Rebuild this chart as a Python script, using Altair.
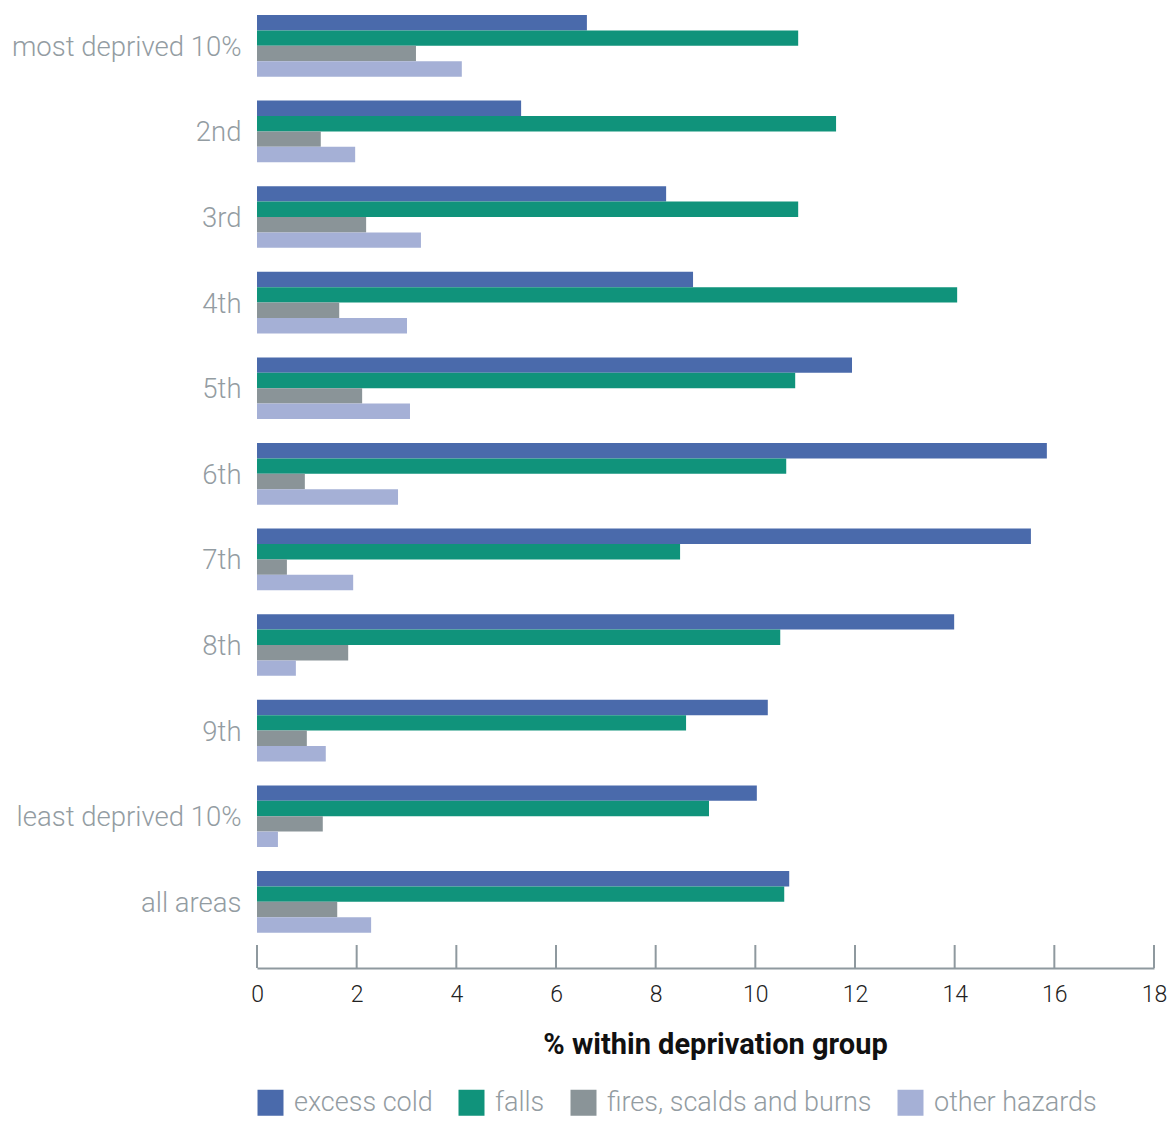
import altair as alt
import pandas as pd

categories = ["most deprived 10%", "2nd", "3rd", "4th", "5th", "6th", "7th",
              "8th", "9th", "least deprived 10%", "all areas"]
series = ["excess cold", "falls", "fires, scalds and burns", "other hazards"]
excess_cold = [6.62, 5.30, 8.21, 8.75, 11.94, 15.85, 15.53, 13.99, 10.25, 10.03, 10.68]
falls = [10.86, 11.62, 10.86, 14.05, 10.80, 10.62, 8.49, 10.50, 8.61, 9.07, 10.58]
fires = [3.19, 1.28, 2.19, 1.65, 2.11, 0.96, 0.60, 1.83, 1.00, 1.32, 1.61]
other = [4.11, 1.97, 3.29, 3.01, 3.07, 2.83, 1.93, 0.78, 1.38, 0.42, 2.29]
colors = ["#4a6aab", "#10937b", "#8a9498", "#a5b0d6"]
x_ticks = [0, 2, 4, 6, 8, 10, 12, 14, 16, 18]

rows = []
for s, vals in zip(series, [excess_cold, falls, fires, other]):
    for c, v in zip(categories, vals):
        rows.append({"category": c, "series": s, "value": v})
df = pd.DataFrame(rows)
ticks_df = pd.DataFrame({"tick": x_ticks})

FONT = "Roboto"
GRAY = "#8f999f"

bars = alt.Chart(df).mark_bar().encode(
    y=alt.Y("category:N", sort=categories,
            scale=alt.Scale(paddingInner=0.28, paddingOuter=0.2066, align=0),
            axis=alt.Axis(title=None, domain=False, ticks=False, labelPadding=16,
                          labelFontSize=27.5, labelColor="#939ca2", labelFont=FONT,
                          labelFontWeight=300, labelLimit=400, labelOffset=2)),
    yOffset=alt.YOffset("series:N", sort=series,
                        scale=alt.Scale(paddingInner=0, paddingOuter=0)),
    x=alt.X("value:Q", scale=alt.Scale(domain=[0, 18], nice=False),
            axis=alt.Axis(values=x_ticks, title="% within deprivation group",
                          domain=True, domainColor=GRAY, domainWidth=2, ticks=False,
                          grid=False, labelFontSize=23, labelPadding=15, labelFlush=False,
                          labelColor="#222222", labelFont=FONT, labelFontWeight=300,
                          titleFontSize=29, titleFont=FONT, titleFontWeight="bold",
                          titleColor="#111111", titlePadding=24, titleX=458)),
    color=alt.Color("series:N", sort=series,
                    scale=alt.Scale(domain=series, range=colors),
                    legend=alt.Legend(title=None, orient="none", legendX=0, legendY=1074,
                                      direction="horizontal", symbolType="square",
                                      symbolSize=676, symbolStrokeWidth=0,
                                      labelFontSize=27, labelFont=FONT,
                                      labelFontWeight=300, labelColor="#939ca2",
                                      columnPadding=25, labelOffset=10, labelLimit=400)),
)

tick_rules = alt.Chart(ticks_df).mark_rule(color=GRAY, strokeWidth=2).encode(
    x=alt.X("tick:Q"),
    y=alt.value(930),
    y2=alt.value(953),
)

chart = alt.layer(bars, tick_rules).properties(
    width=897, height=953,
    autosize=alt.AutoSizeParams(type="none"),
    padding={"left": 249, "top": 7, "right": 13, "bottom": 153},
).configure_view(stroke=None)

chart.save("out.html", embed_options={"renderer": "svg", "actions": False})
